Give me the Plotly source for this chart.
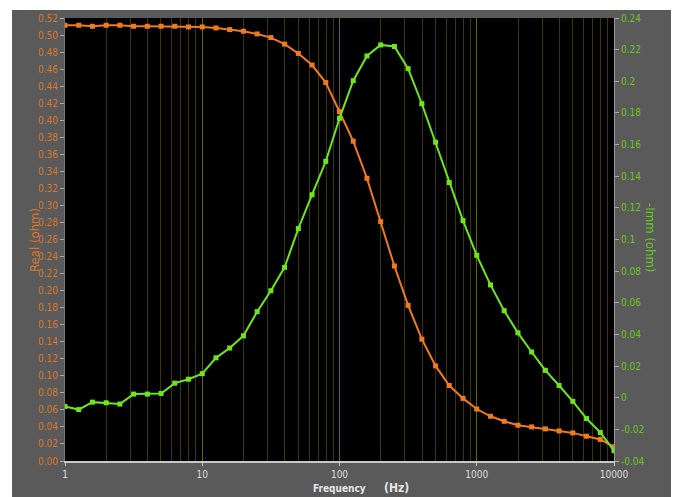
import plotly.graph_objects as go

freq_hz = [1, 1.259, 1.585, 1.995, 2.512, 3.162, 3.981, 5.012, 6.31, 7.943,
           10, 12.59, 15.85, 19.95, 25.12, 31.62, 39.81, 50.12, 63.1, 79.43,
           100, 125.9, 158.5, 199.5, 251.2, 316.2, 398.1, 501.2, 631.0, 794.3,
           1000, 1259, 1585, 1995, 2512, 3162, 3981, 5012, 6310, 7943, 10000]

real_ohm = [0.5115, 0.5115, 0.5103, 0.5115, 0.5115, 0.5103, 0.5103, 0.5103, 0.5103, 0.5095,
            0.5095, 0.5083, 0.5064, 0.5045, 0.5013, 0.4970, 0.4893, 0.4784, 0.4648, 0.4442,
            0.4100, 0.3754, 0.3319, 0.2810, 0.2289, 0.1827, 0.1430, 0.1116, 0.0886, 0.0735,
            0.0610, 0.0525, 0.0466, 0.0420, 0.0400, 0.0377, 0.0353, 0.0330, 0.0291, 0.0253,
            0.0167]

neg_imag_ohm = [-0.0055, -0.0075, -0.0028, -0.0032, -0.0040, 0.0023, 0.0023, 0.0027, 0.0092, 0.0117,
                0.0152, 0.0252, 0.0314, 0.0391, 0.0544, 0.0676, 0.0824, 0.1069, 0.1283, 0.1494,
                0.1766, 0.2004, 0.2160, 0.2230, 0.2220, 0.2080, 0.1858, 0.1615, 0.1360, 0.1119,
                0.0900, 0.0713, 0.0550, 0.0410, 0.0289, 0.0173, 0.0077, -0.0023, -0.0132, -0.0220,
                -0.0335]

x_tickvals = [1, 10, 100, 1000, 10000]
x_ticktext = ["1", "10", "100", "1000", "10000"]
left_tickvals = [i * 0.02 for i in range(27)]
left_ticktext = ["%.2f" % v for v in left_tickvals]
right_tickvals = [-0.04, -0.02, 0, 0.02, 0.04, 0.06, 0.08, 0.1, 0.12, 0.14, 0.16, 0.18, 0.2, 0.22, 0.24]
right_ticktext = ["-0.04", "-0.02", "0", "0.02", "0.04", "0.06", "0.08", "0.1", "0.12", "0.14",
                  "0.16", "0.18", "0.2", "0.22", "0.24"]

ORANGE = "#f07a1e"
GREEN = "#6ee61e"
ORANGE_TXT = "#d8782a"
GREEN_TXT = "#66c81e"
PANEL = "#5a5a5a"
FONT = "Liberation Sans Narrow, DejaVu Sans Condensed, Arial, sans-serif"

fig = go.Figure()
fig.add_trace(go.Scatter(x=freq_hz, y=real_ohm, mode="lines+markers",
                         line=dict(color=ORANGE, width=2),
                         marker=dict(symbol="square", size=5, color=ORANGE),
                         yaxis="y", showlegend=False))
fig.add_trace(go.Scatter(x=freq_hz, y=neg_imag_ohm, mode="lines+markers",
                         line=dict(color=GREEN, width=2),
                         marker=dict(symbol="square", size=5, color=GREEN),
                         yaxis="y2", showlegend=False))

white_strips = [
    dict(x0=-0.2, x1=1.2, y0=1.018, y1=1.1),     # top strip
    dict(x0=-0.2, x1=-0.0965, y0=-0.2, y1=1.1),  # left strip
    dict(x0=1.1038, x1=1.2, y0=-0.2, y1=1.1),    # right strip
]
shapes = [dict(type="rect", xref="paper", yref="paper", fillcolor="white",
               line=dict(width=0), layer="above", **s) for s in white_strips]

fig.update_layout(
    width=675, height=497,
    margin=dict(l=65, r=61, t=15, b=36),
    paper_bgcolor=PANEL,
    plot_bgcolor="black",
    font=dict(family=FONT, size=10),
    xaxis=dict(type="log", range=[0, 4], tickvals=x_tickvals, ticktext=x_ticktext,
               showgrid=True, gridcolor="#6a6200", gridwidth=1,
               minor=dict(dtick="D1", showgrid=True, gridcolor="#3c3800", gridwidth=1, ticks=""),
               showline=True, linecolor="#c8c8c8", linewidth=2,
               ticks="outside", ticklen=3, tickcolor="#c8c8c8",
               tickfont=dict(color="#dddddd", size=10), zeroline=False),
    yaxis=dict(range=[0, 0.52], tickvals=left_tickvals, ticktext=left_ticktext,
               showgrid=False, zeroline=False,
               showline=True, linecolor="#777777", linewidth=1,
               ticks="outside", ticklen=4, tickcolor="#aaaaaa",
               tickfont=dict(color=ORANGE_TXT, size=10)),
    yaxis2=dict(range=[-0.04, 0.24], tickvals=right_tickvals, ticktext=right_ticktext,
                overlaying="y", side="right", showgrid=False, zeroline=False,
                showline=True, linecolor="#999999", linewidth=1,
                ticks="outside", ticklen=4, tickcolor="#aaaaaa",
                tickfont=dict(color=GREEN_TXT, size=10)),
    shapes=shapes,
    annotations=[
        dict(text="Real (ohm)", xref="paper", yref="paper", x=-0.073, y=0.5,
             textangle=-90, showarrow=False, font=dict(color=ORANGE_TXT, size=13, family=FONT)),
        dict(text="-Imm (ohm)", xref="paper", yref="paper", x=1.085, y=0.505,
             textangle=90, showarrow=False, font=dict(color=GREEN_TXT, size=13, family=FONT)),
        dict(text="<b>Frequency</b>", xref="paper", yref="paper", x=0.5, y=-0.0628,
             xanchor="center", yanchor="middle", borderpad=0, showarrow=False,
             font=dict(color="#e6e6e6", size=10, family=FONT)),
        dict(text="<b>(Hz)</b>", xref="paper", yref="paper", x=0.603, y=-0.0605,
             xanchor="center", yanchor="middle", borderpad=0, showarrow=False,
             font=dict(color="#e6e6e6", size=12, family=FONT)),
    ],
)

fig.write_html("out.html")
